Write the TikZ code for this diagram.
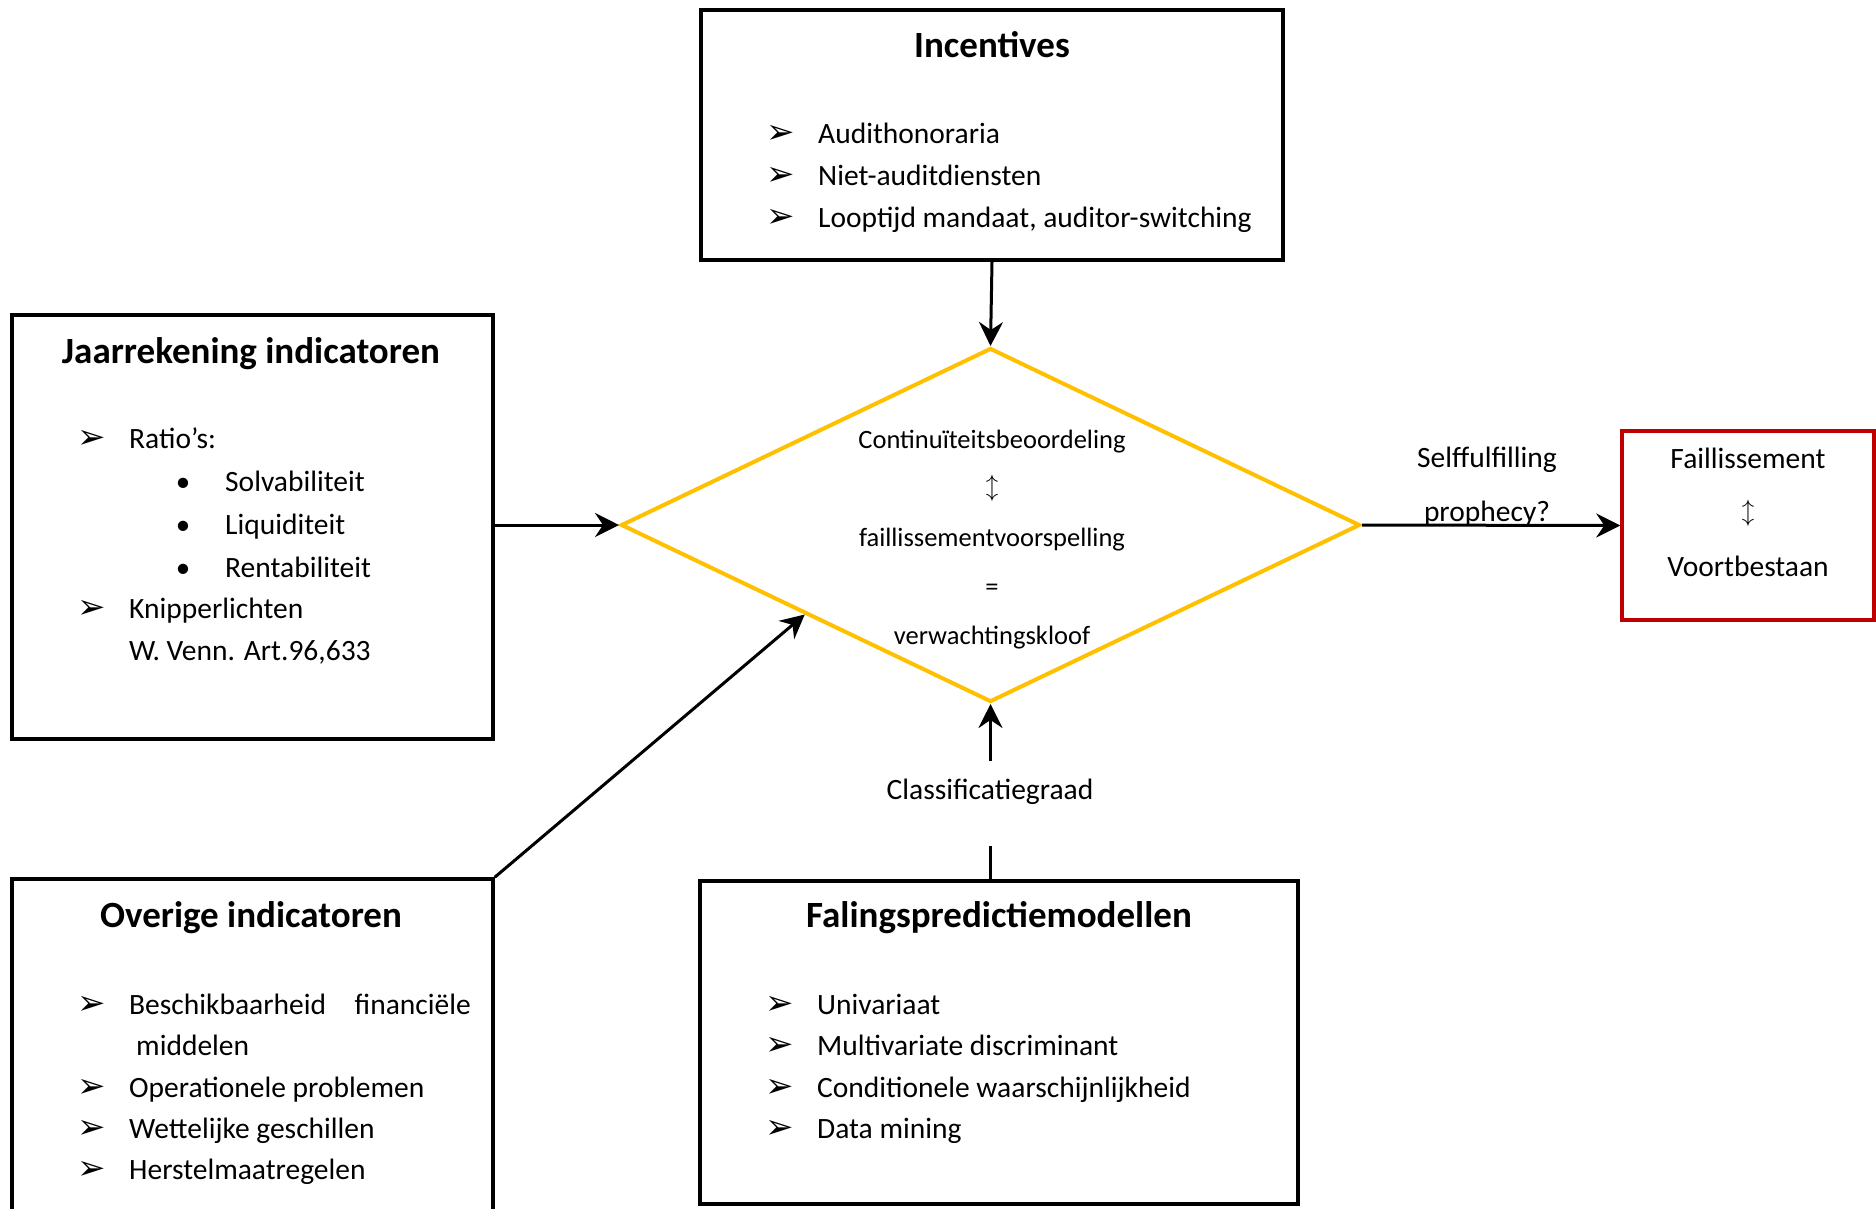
\documentclass[tikz,border=0pt]{standalone}
\usepackage{fontspec}
\setmainfont{Carlito}
\newfontfamily\dejavu{DejaVu Sans}
\usetikzlibrary{shapes.geometric,arrows.meta}
\definecolor{dyellow}{HTML}{FFC000}
\definecolor{dred}{HTML}{C00000}
\begin{document}
\begin{tikzpicture}[x=1pt,y=-1pt,
  box/.style={draw=black, line width=3.5pt, rectangle, inner sep=0pt},
  ttl/.style={font=\fontsize{37}{44}\selectfont\bfseries, anchor=base, inner sep=0pt},
  itm/.style={font=\fontsize{29.5}{35}\selectfont, anchor=base west, inner sep=0pt},
  arw/.style={font=\fontsize{34}{40}\selectfont\dejavu, anchor=base, inner sep=0pt},
  dotb/.style={font=\fontsize{29}{35}\selectfont, anchor=base, inner sep=0pt},
  dtx/.style={font=\fontsize{26.5}{32}\selectfont, anchor=base, inner sep=0pt},
  lbl/.style={font=\fontsize{29.5}{35}\selectfont, anchor=base, inner sep=0pt},
  udarr/.style={font=\fontsize{33}{38}\selectfont, anchor=center, inner sep=0pt},
  conn/.style={line width=3pt, -{Stealth[length=24pt,width=24pt,inset=8pt]}},
  plainline/.style={line width=3pt}]
\useasboundingbox (0,0) rectangle (1876,1208);
\clip (0,0) rectangle (1876,1208);

% boxes
\node[box, minimum width=582, minimum height=250] (inc) at (992,135) {};
\node[box, minimum width=481, minimum height=424] (jaar) at (252.5,527) {};
\node[box, minimum width=481, minimum height=371] (ovr) at (252.5,1064.5) {};
\node[box, minimum width=598, minimum height=323] (fal) at (999,1042.5) {};
\node[box, draw=dred, minimum width=252, minimum height=189] (fail) at (1748,525.5) {};
\node[diamond, draw=dyellow, line width=4pt, minimum width=739, minimum height=354, aspect=2.088, inner sep=0pt] (dia) at (990.5,525) {};

% Incentives
\node[ttl] (incT) at (992,57) {Incentives};
\node[arw] (incA1) at (781,143.5) {➢};
\node[itm] (incI1) at (818,143.5) {Audithonoraria};
\node[arw] (incA2) at (781,185.5) {➢};
\node[itm] (incI2) at (818,185.5) {Niet-auditdiensten};
\node[arw] (incA3) at (781,227.5) {➢};
\node[itm] (incI3) at (818,227.5) {Looptijd mandaat, auditor-switching};

% Jaarrekening
\node[ttl] (jaarT) at (251,363) {Jaarrekening indicatoren};
\node[arw] (jA1) at (92,448.5) {➢};
\node[itm] (jI1) at (129,448.5) {Ratio’s:};
\node[dotb] (jD1) at (183,491.5) {•};
\node[itm] (jI2) at (225,491.5) {Solvabiliteit};
\node[dotb] (jD2) at (183,534.5) {•};
\node[itm] (jI3) at (225,534.5) {Liquiditeit};
\node[dotb] (jD3) at (183,577.5) {•};
\node[itm] (jI4) at (225,577.5) {Rentabiliteit};
\node[arw] (jA2) at (92,618.5) {➢};
\node[itm] (jI5) at (129,618.5) {Knipperlichten};
\node[itm] (jI6) at (129,660.5) {W. Venn. Art.96,633};

% Overige
\node[ttl] (ovrT) at (251,927) {Overige indicatoren};
\node[arw] (oA1) at (92,1014.5) {➢};
\node[itm] (oI1) at (129,1014.5) {Beschikbaarheid};
\node[itm, anchor=base east] (oI1b) at (471,1014.5) {financiële};
\node[itm] (oI2) at (136,1055.5) {middelen};
\node[arw] (oA3) at (92,1097.5) {➢};
\node[itm] (oI3) at (129,1097.5) {Operationele problemen};
\node[arw] (oA4) at (92,1138.5) {➢};
\node[itm] (oI4) at (129,1138.5) {Wettelijke geschillen};
\node[arw] (oA5) at (92,1179.5) {➢};
\node[itm] (oI5) at (129,1179.5) {Herstelmaatregelen};

% Falings
\node[ttl] (falT) at (999,927) {Falingspredictiemodellen};
\node[arw] (fA1) at (780,1014.5) {➢};
\node[itm] (fI1) at (817,1014.5) {Univariaat};
\node[arw] (fA2) at (780,1055.5) {➢};
\node[itm] (fI2) at (817,1055.5) {Multivariate discriminant};
\node[arw] (fA3) at (780,1097.5) {➢};
\node[itm] (fI3) at (817,1097.5) {Conditionele waarschijnlijkheid};
\node[arw] (fA4) at (780,1138.5) {➢};
\node[itm] (fI4) at (817,1138.5) {Data mining};

% diamond text
\node[dtx] (d1) at (992,448) {Continuïteitsbeoordeling};
\node[udarr] (d2) at (992,488) {$\updownarrow$};
\node[dtx] (d3) at (992,546) {faillissementvoorspelling};
\node[dtx] (d4) at (992,595) {=};
\node[dtx] (d5) at (992,644) {verwachtingskloof};

% red box text
\node[lbl] (r1) at (1748,468.5) {Faillissement};
\node[udarr] (r2) at (1748,513) {$\updownarrow$};
\node[lbl] (r3) at (1748,576.5) {Voortbestaan};

% labels
\node[lbl] (sf1) at (1487,467.5) {Selffulfilling};
\node[lbl] (sf2) at (1487,521.5) {prophecy?};
\node[lbl] (cls) at (990,799.5) {Classificatiegraad};

% connectors
\coordinate (clsb) at (990.5,846);
\coordinate (clst) at (990.5,761);
\draw[conn] (inc.south) -- (dia.north);
\draw[conn] (jaar.east |- dia.west) -- (dia.west);
\draw[conn] (ovr.north east) -- (dia.south west);
\draw[plainline] (fal.north -| dia.south) -- (clsb);
\draw[conn] (clst) -- (dia.south);
\draw[conn] (dia.east) -- (fail.west);
\end{tikzpicture}
\end{document}
